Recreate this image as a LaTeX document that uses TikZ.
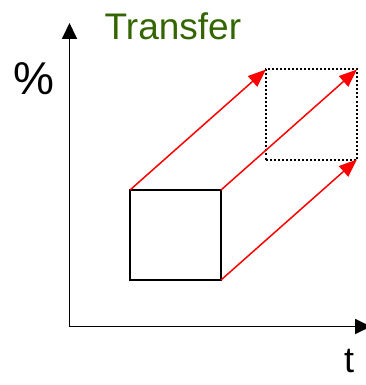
\documentclass[tikz,border=0pt]{standalone}
\usepackage{fontspec}
\setmainfont{Liberation Sans}
\usetikzlibrary{arrows.meta}
\definecolor{tgreen}{RGB}{51,102,0}
\begin{document}
\begin{tikzpicture}[x=1pt,y=-1pt,
  axis/.style={line width=1.8pt,-{Triangle[length=16pt,width=15pt]}},
  redarrow/.style={red,line width=1.5pt,-{Triangle[length=18pt,width=14pt]}},
  solidbox/.style={draw,line width=2pt,minimum width=91pt,minimum height=90pt,inner sep=0pt,outer sep=0pt},
  dotbox/.style={draw,line width=2pt,dotted,minimum width=91pt,minimum height=90pt,inner sep=0pt,outer sep=0pt},
  lbl/.style={inner sep=0pt,anchor=base west}]
\useasboundingbox (0,0) rectangle (366,385);
\coordinate (o) at (69.5,326.5);
\coordinate (ytip) at (69.5,23);
\coordinate (xtip) at (371,326.5);
\draw[axis] (o) -- (ytip);
\draw[axis] (o) -- (xtip);
\node[solidbox] (src) at (175.5,235) {};
\node[dotbox] (dst) at (311.5,114.5) {};
\draw[redarrow] (src.north west) -- (dst.north west);
\draw[redarrow] (src.north east) -- (dst.north east);
\draw[redarrow] (src.south east) -- (dst.south east);
\node[lbl,text=tgreen,font=\fontsize{37}{40}\selectfont] (title) at (104.5,39.5) {Transfer};
\node[lbl,font=\fontsize{46}{50}\selectfont] (pct) at (13,95) {\%};
\node[lbl,font=\fontsize{36}{40}\selectfont] (t) at (344,372) {t};
\end{tikzpicture}
\end{document}
